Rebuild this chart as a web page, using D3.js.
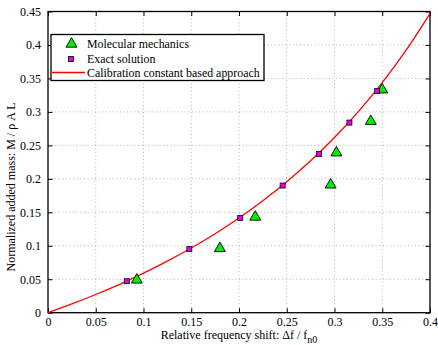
<!DOCTYPE html>
<html>
<head>
<meta charset="utf-8">
<script src="https://cdn.jsdelivr.net/npm/d3@7"></script>
<style>
  html, body { margin: 0; padding: 0; background: #fff; }
  svg { display: block; font-family: "Liberation Serif", "Times New Roman", serif; }
</style>
</head>
<body>
<svg id="chart" width="438" height="345"></svg>
<script>
// Molecular mechanics results (triangles)
const mmShift = [0.093, 0.180, 0.217, 0.296, 0.302, 0.338, 0.350];
const mmMass  = [0.049, 0.096, 0.143, 0.191, 0.239, 0.286, 0.333];

// Exact solution (squares)
const exShift = [0.0825, 0.148, 0.2013, 0.2457, 0.2838, 0.3156, 0.3446];
const exMass  = [0.047, 0.095, 0.1415, 0.190, 0.237, 0.284, 0.331];

// Calibration constant based approach (curve samples)
const calShift = [0, 0.025, 0.05, 0.075, 0.1, 0.125, 0.15, 0.175, 0.2, 0.225, 0.25, 0.275, 0.3, 0.325, 0.35, 0.375, 0.4];
const calMass  = [0, 0.0131, 0.0272, 0.0424, 0.0590, 0.0770, 0.0966, 0.1180, 0.1414, 0.1672, 0.1955, 0.2269, 0.2617, 0.3004, 0.3436, 0.3922, 0.4469];

const xTicks = [0, 0.05, 0.1, 0.15, 0.2, 0.25, 0.3, 0.35, 0.4];
const yTicks = [0, 0.05, 0.1, 0.15, 0.2, 0.25, 0.3, 0.35, 0.4, 0.45];

const legendLabels = ["Molecular mechanics", "Exact solution", "Calibration constant based approach"];

const svg = d3.select("#chart");
const plotL = 48, plotR = 430, plotT = 11.5, plotB = 312.7;

const x = d3.scaleLinear().domain([0, 0.4]).range([plotL, plotR]);
const y = d3.scaleLinear().domain([0, 0.45]).range([plotB, plotT]);
const fmt = d => d === 0 ? "0" : String(d);

// grid
const grid = svg.append("g").attr("stroke", "#9a9a9a").attr("stroke-width", 0.8)
  .attr("stroke-dasharray", "1,2.6");
grid.selectAll(".gx").data(xTicks.slice(1, -1)).join("line").attr("class", "gx")
  .attr("x1", d => x(d)).attr("x2", d => x(d)).attr("y1", plotT).attr("y2", plotB);
grid.selectAll(".gy").data(yTicks.slice(1, -1)).join("line").attr("class", "gy")
  .attr("y1", d => y(d)).attr("y2", d => y(d)).attr("x1", plotL).attr("x2", plotR);

// axes with inward ticks
const tickLen = 4.5;
const xAxisB = d3.axisBottom(x).tickValues(xTicks).tickFormat(fmt).tickSizeInner(-tickLen).tickSizeOuter(0).tickPadding(5);
const xAxisT = d3.axisTop(x).tickValues(xTicks).tickFormat("").tickSizeInner(-tickLen).tickSizeOuter(0);
const yAxisL = d3.axisLeft(y).tickValues(yTicks).tickFormat(fmt).tickSizeInner(-tickLen).tickSizeOuter(0).tickPadding(7);
const yAxisR = d3.axisRight(y).tickValues(yTicks).tickFormat("").tickSizeInner(-tickLen).tickSizeOuter(0);

function styleAxis(g) {
  g.select(".domain").remove();
  g.selectAll("line").attr("stroke", "#000").attr("stroke-width", 1);
  g.selectAll("text").attr("fill", "#000").attr("font-size", 12)
    .attr("font-family", "Liberation Serif, Times New Roman, serif");
}
svg.append("g").attr("transform", `translate(0,${plotB})`).call(xAxisB).call(styleAxis);
svg.append("g").attr("transform", `translate(0,${plotT})`).call(xAxisT).call(styleAxis);
svg.append("g").attr("transform", `translate(${plotL},0)`).call(yAxisL).call(styleAxis);
svg.append("g").attr("transform", `translate(${plotR},0)`).call(yAxisR).call(styleAxis);

// frame
svg.append("rect").attr("x", plotL).attr("y", plotT).attr("width", plotR - plotL).attr("height", plotB - plotT)
  .attr("fill", "none").attr("stroke", "#000").attr("stroke-width", 1.3);

// calibration curve
const line = d3.line().x((d, i) => x(calShift[i])).y(d => y(d)).curve(d3.curveMonotoneX);
svg.append("path").datum(calMass).attr("d", line)
  .attr("fill", "none").attr("stroke", "#ff0000").attr("stroke-width", 1.3);

// markers
const tri = d3.symbol().type(d3.symbolTriangle).size(52);
svg.append("g").selectAll("path").data(mmShift).join("path")
  .attr("d", tri)
  .attr("transform", (d, i) => `translate(${x(d)},${y(mmMass[i])})`)
  .attr("fill", "#00ee00").attr("stroke", "#000").attr("stroke-width", 0.9);

const sq = 5;
svg.append("g").selectAll("rect").data(exShift).join("rect")
  .attr("x", d => x(d) - sq / 2)
  .attr("y", (d, i) => y(exMass[i]) - sq / 2)
  .attr("width", sq).attr("height", sq)
  .attr("fill", "#e600e6").attr("stroke", "#000").attr("stroke-width", 0.8);

// legend
const lg = svg.append("g");
lg.append("rect").attr("x", 51).attr("y", 34.5).attr("width", 213).attr("height", 46)
  .attr("fill", "#fff").attr("stroke", "#000").attr("stroke-width", 1.3);
const rowY = [44, 59, 72.5];
lg.append("path").attr("d", tri).attr("transform", `translate(71.5,${rowY[0]})`)
  .attr("fill", "#00ee00").attr("stroke", "#000").attr("stroke-width", 0.9);
lg.append("rect").attr("x", 71 - sq / 2).attr("y", rowY[1] - sq / 2).attr("width", sq).attr("height", sq)
  .attr("fill", "#e600e6").attr("stroke", "#000").attr("stroke-width", 0.8);
lg.append("line").attr("x1", 52).attr("x2", 85).attr("y1", rowY[2]).attr("y2", rowY[2])
  .attr("stroke", "#ff0000").attr("stroke-width", 1.3);
lg.selectAll("text").data(legendLabels).join("text")
  .attr("x", 87).attr("y", (d, i) => rowY[i] + 4)
  .attr("font-size", 11.9).attr("fill", "#000").text(d => d);

// axis titles
const xl = svg.append("text").attr("x", 239).attr("y", 339).attr("text-anchor", "middle")
  .attr("font-size", 12).attr("fill", "#000");
xl.append("tspan").text("Relative frequency shift: \u0394f / f");
xl.append("tspan").attr("dy", 4).attr("font-size", 10).text("n0");

svg.append("text").attr("transform", "translate(15,187) rotate(-90)")
  .attr("text-anchor", "middle").attr("font-size", 12).attr("fill", "#000")
  .text("Normalized added mass: M / \u03c1 A L");
</script>
</body>
</html>
